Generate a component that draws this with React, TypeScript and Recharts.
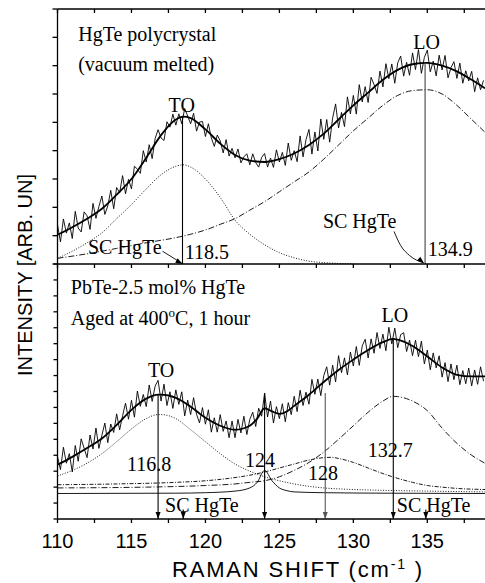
import React from "react";
import { LineChart, Line, XAxis, YAxis, ReferenceLine, ReferenceDot } from "recharts";

const W = 485;
const H = 583;
const X_DOMAIN: [number, number] = [110, 138.9];
const xTicks = [110, 112.5, 115, 117.5, 120, 122.5, 125, 127.5, 130, 132.5, 135, 137.5];
const topYTicks = [0, 1, 2, 3, 4, 5, 6, 7, 8, 9];
const botYTicks = [0, 1, 2, 3, 4, 5, 6, 7, 8, 9, 10, 11, 12, 13, 14, 15, 16];

// raw spectra sampled every 0.2 cm-1 starting at 110
const RAW_START = 110;
const RAW_STEP = 0.2;

// ---- top panel: HgTe polycrystal ----
const topRaw = [
  1.38, 0.78, 1.59, 1.09, 1.45, 0.9, 1.86, 1.27, 1.13, 1.84,
  1.7, 1.22, 2.14, 1.61, 2.03, 2.4, 1.75, 2.05, 2.6, 1.95,
  2.7, 2.51, 3.12, 2.48, 2.99, 2.65, 3.45, 3.35, 3.2, 4.0,
  3.6, 4.21, 3.72, 4.43, 4.74, 4.45, 4.36, 5.02, 4.83, 5.29,
  4.9, 5.3, 4.95, 5.49, 5.22, 4.95, 5.32, 4.69, 5.01, 5.03,
  4.5, 4.95, 4.45, 4.15, 4.55, 4.35, 3.92, 4.39, 3.81, 4.08,
  3.75, 4.06, 3.57, 3.78, 3.89, 3.5, 3.89, 3.58, 3.42, 3.76,
  3.9, 3.42, 3.74, 3.41, 4.03, 3.6, 3.94, 3.48, 4.27, 3.66,
  4.0, 3.61, 4.52, 3.78, 4.39, 4.75, 3.88, 4.66, 3.99, 5.12,
  4.4, 5.1, 4.3, 5.15, 5.65, 4.8, 5.35, 4.85, 5.9, 5.3,
  5.95, 5.29, 6.33, 5.72, 6.26, 5.7, 6.59, 6.33, 6.02, 6.81,
  6.25, 7.07, 6.54, 7.06, 6.38, 7.1, 7.34, 6.63, 7.12, 6.66,
  7.45, 6.86, 7.57, 6.73, 7.29, 7.55, 6.78, 7.16, 6.64, 7.37,
  6.85, 7.36, 6.57, 6.93, 7.14, 6.55, 7.09, 6.38, 6.82, 6.46,
  6.8, 6.08, 6.57, 6.15, 6.48,
];
const topFitX = [110, 111, 112, 113, 114, 115, 116, 117, 118, 118.5, 119, 120, 121, 122, 123, 124, 125, 126, 127, 128, 129, 130, 131, 132, 133, 134, 135, 136, 137, 138, 138.9];
const topFit = [1.03, 1.3, 1.6, 1.95, 2.45, 3.0, 3.75, 4.55, 5.1, 5.2, 5.15, 4.75, 4.25, 3.85, 3.65, 3.6, 3.7, 3.9, 4.2, 4.6, 5.1, 5.6, 6.05, 6.5, 6.85, 7.05, 7.1, 7.0, 6.8, 6.5, 6.2];
const topTOX = [110, 111, 112, 113, 114, 115, 116, 117, 118, 118.5, 119, 120, 121, 122, 123, 124, 125, 126, 127, 128, 129, 130];
const topTO = [0.2, 0.45, 0.75, 1.1, 1.6, 2.1, 2.65, 3.15, 3.45, 3.5, 3.42, 3.0, 2.35, 1.55, 1.05, 0.68, 0.4, 0.22, 0.1, 0.05, 0.02, 0];
const topLOX = [110, 112, 114, 116, 118, 119, 120, 121, 122, 123, 124, 125, 126, 127, 128, 129, 130, 131, 132, 133, 134, 135, 136, 137, 138, 138.9];
const topLO = [0.2, 0.36, 0.55, 0.75, 0.93, 1.05, 1.2, 1.4, 1.6, 1.9, 2.2, 2.55, 2.9, 3.25, 3.7, 4.2, 4.7, 5.15, 5.6, 5.95, 6.12, 6.15, 6.0, 5.6, 5.1, 4.65];
const topCurveX = [132.75, 133.2, 133.8, 134.75];
const topCurveY = [1.15, 0.65, 0.3, 0.04];

// ---- bottom panel: PbTe-2.5 mol% HgTe ----
const botRaw = [
  3.9, 3.1, 4.5, 3.5, 4.1, 2.95, 4.61, 3.62, 5.03, 4.44,
  3.85, 5.27, 4.39, 5.71, 4.43, 5.25, 6.02, 4.79, 5.96, 5.43,
  6.6, 5.59, 6.48, 7.27, 6.26, 7.45, 6.39, 8.03, 7.07, 7.81,
  7.05, 8.41, 7.38, 8.34, 8.7, 7.4, 8.46, 7.12, 7.98, 6.94,
  8.1, 7.19, 7.98, 6.47, 7.46, 6.55, 7.61, 6.57, 6.03, 6.99,
  5.95, 6.85, 5.45, 6.35, 5.45, 6.55, 5.5, 6.15, 5.1, 6.15,
  5.1, 6.25, 5.4, 6.45, 5.3, 6.25, 6.7, 5.8, 6.95, 6.45,
  7.9, 6.4, 7.4, 6.02, 7.05, 6.3, 7.23, 6.1, 7.3, 6.55,
  7.7, 6.74, 8.08, 7.12, 7.96, 7.2, 8.76, 7.82, 8.78, 7.74,
  9.0, 9.55, 8.4, 9.65, 8.6, 10.25, 9.18, 10.11, 9.04, 10.47,
  9.6, 10.82, 9.64, 10.86, 11.28, 10.1, 11.3, 10.4, 11.7, 10.7,
  11.6, 10.56, 12.03, 10.99, 11.98, 10.75, 11.57, 11.69, 10.51, 11.23,
  10.25, 11.22, 10.19, 11.16, 9.73, 10.6, 9.36, 10.42, 9.48, 10.24,
  8.9, 9.81, 8.62, 9.73, 8.74, 9.65, 8.43, 9.31, 8.49, 9.47,
  8.35, 9.35, 8.45, 9.55, 8.65,
];
const botFitX = [110, 111, 112, 113, 114, 115, 116, 116.8, 117, 118, 119, 120, 121, 122, 123, 123.5, 124, 124.5, 125, 125.5, 126, 127, 128, 129, 130, 131, 132, 132.7, 133, 134, 135, 136, 137, 138, 138.9];
const botFit = [3.4, 3.9, 4.45, 5.05, 5.9, 6.85, 7.55, 7.8, 7.8, 7.6, 7.05, 6.35, 5.85, 5.6, 5.85, 6.3, 6.95, 6.75, 6.6, 6.75, 7.1, 7.8, 8.6, 9.35, 10.0, 10.6, 11.1, 11.3, 11.25, 10.85, 10.2, 9.5, 9.05, 8.95, 8.95];
const botTOX = [110, 111, 112, 113, 114, 115, 116, 116.8, 117, 118, 119, 120, 121, 122, 123, 124, 125, 126, 127, 128, 130, 132, 135, 138.9];
const botTO = [2.7, 3.05, 3.5, 4.1, 4.85, 5.65, 6.3, 6.55, 6.55, 6.3, 5.6, 4.85, 4.1, 3.45, 3.0, 2.65, 2.4, 2.2, 2.05, 1.95, 1.85, 1.8, 1.75, 1.7];
const bot124X = [110, 118, 120, 122, 123, 123.5, 124, 124.5, 125, 125.5, 126, 128, 132, 138.9];
const bot124 = [1.6, 1.62, 1.65, 1.75, 1.95, 2.3, 3.05, 2.4, 1.95, 1.78, 1.7, 1.65, 1.62, 1.6];
const bot128X = [110, 114, 118, 120, 122, 123, 124, 125, 126, 127, 128, 128.5, 129, 130, 131, 132, 133, 134, 135, 136, 137, 138.9];
const bot128 = [2.15, 2.2, 2.3, 2.4, 2.6, 2.75, 2.95, 3.2, 3.45, 3.7, 3.85, 3.87, 3.8, 3.55, 3.2, 2.85, 2.55, 2.3, 2.1, 2.0, 1.92, 1.85];
const botLOX = [110, 116, 120, 122, 123, 124, 125, 126, 127, 128, 129, 130, 131, 132, 132.7, 133, 134, 135, 136, 137, 138, 138.9];
const botLO = [1.95, 2.0, 2.1, 2.2, 2.3, 2.4, 2.65, 3.05, 3.55, 4.2, 5.0, 5.85, 6.7, 7.4, 7.7, 7.68, 7.4, 6.8, 5.7, 4.75, 4.0, 3.5];

const pts = (xs: number[], ys: number[]) => xs.map((x, i) => ({ x, y: ys[i] }));
const rawPts = (ys: number[]) => ys.map((y, i) => ({ x: +(RAW_START + i * RAW_STEP).toFixed(2), y }));

const serif = "'Liberation Serif', 'Times New Roman', serif";
const sans = "'Liberation Sans', Arial, sans-serif";

type Note = { x: number; y: number; text: string; anchor?: "start" | "middle" | "end" };

const topNotes: Note[] = [
  { x: 111.4, y: 7.87, text: "HgTe polycrystal" },
  { x: 111.4, y: 6.81, text: "(vacuum melted)" },
  { x: 118.4, y: 5.35, text: "TO", anchor: "middle" },
  { x: 134.95, y: 7.59, text: "LO", anchor: "middle" },
  { x: 112.06, y: 0.35, text: "SC HgTe" },
  { x: 118.6, y: 0.18, text: "118.5" },
  { x: 127.94, y: 1.28, text: "SC HgTe" },
  { x: 135.03, y: 0.28, text: "134.9" },
];
const botNotes: Note[] = [
  { x: 110.9, y: 14.1, text: "PbTe-2.5 mol% HgTe" },
  { x: 117.0, y: 8.94, text: "TO", anchor: "middle" },
  { x: 132.8, y: 12.35, text: "LO", anchor: "middle" },
  { x: 114.7, y: 3.0, text: "116.8" },
  { x: 122.67, y: 3.28, text: "124" },
  { x: 126.93, y: 2.46, text: "128" },
  { x: 130.98, y: 3.9, text: "132.7" },
  { x: 117.27, y: 0.44, text: "SC HgTe" },
  { x: 132.94, y: 0.44, text: "SC HgTe" },
];

type Arrow = { x: number; top: number; color?: string };
const topArrows: Arrow[] = [
  { x: 118.45, top: 5.2 },
  { x: 134.85, top: 7.1, color: "#444" },
];
const botArrows: Arrow[] = [
  { x: 116.8, top: 7.8 },
  { x: 124.0, top: 7.9 },
  { x: 128.1, top: 7.9, color: "#555" },
  { x: 132.7, top: 11.3 },
  { x: 118.5, top: 0.6 },
  { x: 134.9, top: 0.6 },
];

const noteShape = (n: Note) => (p: any) => (
  <text x={p.cx} y={p.cy} textAnchor={n.anchor ?? "start"} fontFamily={serif} fontSize={20} fill="#000">
    {n.text}
  </text>
);

const headShape = (rot: number, color: string) => (p: any) => (
  <polygon
    points="-2.5,-7 2.5,-7 0,0"
    fill={color}
    transform={`translate(${p.cx},${p.cy}) rotate(${rot})`}
  />
);

const agedShape = (p: any) => (
  <text x={p.cx} y={p.cy} fontFamily={serif} fontSize={20} fill="#000">
    Aged at 400
    <tspan fontSize={13} dy={-8}>o</tspan>
    <tspan dy={8}>C, 1 hour</tspan>
  </text>
);

const axisStroke = { stroke: "#000", strokeWidth: 1.3 };
const noText = () => "";

export default function App() {
  return (
    <div style={{ position: "absolute", left: 0, top: 0, width: W, height: H, background: "#fff" }}>
      {/* top panel */}
      <div style={{ position: "absolute", left: 0, top: 0 }}>
        <LineChart width={W} height={H} margin={{ top: 9, right: 0, bottom: 318, left: 56.5 }}>
          <XAxis type="number" dataKey="x" xAxisId={0} domain={X_DOMAIN} allowDataOverflow ticks={xTicks} interval={0}
            height={1} tickSize={4} tickFormatter={noText} axisLine={axisStroke} tickLine={axisStroke} />
          <XAxis type="number" dataKey="x" xAxisId="t" orientation="top" mirror domain={X_DOMAIN} allowDataOverflow ticks={xTicks} interval={0}
            height={1} tickSize={4} tickFormatter={noText} axisLine={axisStroke} tickLine={axisStroke} />
          <YAxis type="number" domain={[0, 9]} ticks={topYTicks} interval={0} width={1} tickSize={5}
            tickFormatter={noText} axisLine={axisStroke} tickLine={axisStroke} allowDataOverflow />
          <Line data={pts(topLOX, topLO)} dataKey="y" type="monotone" stroke="#000" strokeWidth={0.9} strokeDasharray="6 2 1 2" dot={false} activeDot={false} isAnimationActive={false} />
          <Line data={pts(topTOX, topTO)} dataKey="y" type="monotone" stroke="#000" strokeWidth={0.9} strokeDasharray="1 1.6" dot={false} activeDot={false} isAnimationActive={false} />
          <Line data={rawPts(topRaw)} dataKey="y" type="linear" stroke="#000" strokeWidth={0.9} dot={false} activeDot={false} isAnimationActive={false} />
          <Line data={pts(topFitX, topFit)} dataKey="y" type="monotone" stroke="#000" strokeWidth={1.8} dot={false} activeDot={false} isAnimationActive={false} />
          <Line data={pts(topCurveX, topCurveY)} dataKey="y" type="monotone" stroke="#000" strokeWidth={0.9} dot={false} activeDot={false} isAnimationActive={false} />
          {topArrows.map((a, i) => (
            <ReferenceLine key={`ta${i}`} segment={[{ x: a.x, y: a.top }, { x: a.x, y: 0 }]} stroke={a.color ?? "#000"} strokeWidth={1.1} />
          ))}
          <ReferenceLine segment={[{ x: 117.1, y: 0.45 }, { x: 118.4, y: 0.03 }]} stroke="#000" strokeWidth={0.9} />
          <ReferenceDot x={118.45} y={0} r={0} shape={headShape(-60, "#000")} />
          <ReferenceDot x={134.78} y={0.03} r={0} shape={headShape(-50, "#000")} />
          {topNotes.map((n, i) => (
            <ReferenceDot key={`tn${i}`} x={n.x} y={n.y} r={0} shape={noteShape(n)} />
          ))}
        </LineChart>
      </div>

      {/* bottom panel */}
      <div style={{ position: "absolute", left: 0, top: 0 }}>
        <LineChart width={W} height={H} margin={{ top: 264, right: 0, bottom: 24, left: 56.5 }}>
          <XAxis type="number" dataKey="x" domain={X_DOMAIN} allowDataOverflow ticks={xTicks} interval={0}
            height={40} tickSize={4} tickMargin={11}
            tickFormatter={(v: number) => (v % 5 === 0 ? String(v) : "")}
            tick={{ fill: "#000", fontSize: 20, fontFamily: sans }}
            axisLine={axisStroke} tickLine={axisStroke} />
          <YAxis type="number" domain={[0, 16]} ticks={botYTicks} interval={0} width={1} tickSize={4}
            tickFormatter={noText} axisLine={axisStroke} tickLine={axisStroke} allowDataOverflow />
          <Line data={pts(bot124X, bot124)} dataKey="y" type="monotone" stroke="#000" strokeWidth={0.9} dot={false} activeDot={false} isAnimationActive={false} />
          <Line data={pts(bot128X, bot128)} dataKey="y" type="monotone" stroke="#000" strokeWidth={0.9} strokeDasharray="4 1.5 1 1.5" dot={false} activeDot={false} isAnimationActive={false} />
          <Line data={pts(botLOX, botLO)} dataKey="y" type="monotone" stroke="#000" strokeWidth={0.9} strokeDasharray="6 2 1 2" dot={false} activeDot={false} isAnimationActive={false} />
          <Line data={pts(botTOX, botTO)} dataKey="y" type="monotone" stroke="#000" strokeWidth={0.9} strokeDasharray="1 1.6" dot={false} activeDot={false} isAnimationActive={false} />
          <Line data={rawPts(botRaw)} dataKey="y" type="linear" stroke="#000" strokeWidth={0.9} dot={false} activeDot={false} isAnimationActive={false} />
          <Line data={pts(botFitX, botFit)} dataKey="y" type="monotone" stroke="#000" strokeWidth={1.8} dot={false} activeDot={false} isAnimationActive={false} />
          {botArrows.map((a, i) => (
            <ReferenceLine key={`ba${i}`} segment={[{ x: a.x, y: a.top }, { x: a.x, y: 0 }]} stroke={a.color ?? "#000"} strokeWidth={1.1} />
          ))}
          {botArrows.map((a, i) => (
            <ReferenceDot key={`bh${i}`} x={a.x} y={0} r={0} shape={headShape(0, a.color ?? "#000")} />
          ))}
          {botNotes.map((n, i) => (
            <ReferenceDot key={`bn${i}`} x={n.x} y={n.y} r={0} shape={noteShape(n)} />
          ))}
          <ReferenceDot x={110.9} y={12.16} r={0} shape={agedShape} />
        </LineChart>
      </div>

      {/* axis titles */}
      <svg width={W} height={H} style={{ position: "absolute", left: 0, top: 0, pointerEvents: "none" }}>
        <text x={25} y={275} transform="rotate(-90 25 275)" textAnchor="middle" dominantBaseline="central"
          fontFamily={sans} fontSize={20} fill="#000">
          INTENSITY [ARB. UN]
        </text>
        <text x={172} y={577} fontFamily={sans} fontSize={22} fill="#000" textLength={250} lengthAdjust="spacing">
          RAMAN SHIFT (cm<tspan fontSize={14} dy={-8}>-1</tspan><tspan dy={8}> )</tspan>
        </text>
      </svg>
    </div>
  );
}
